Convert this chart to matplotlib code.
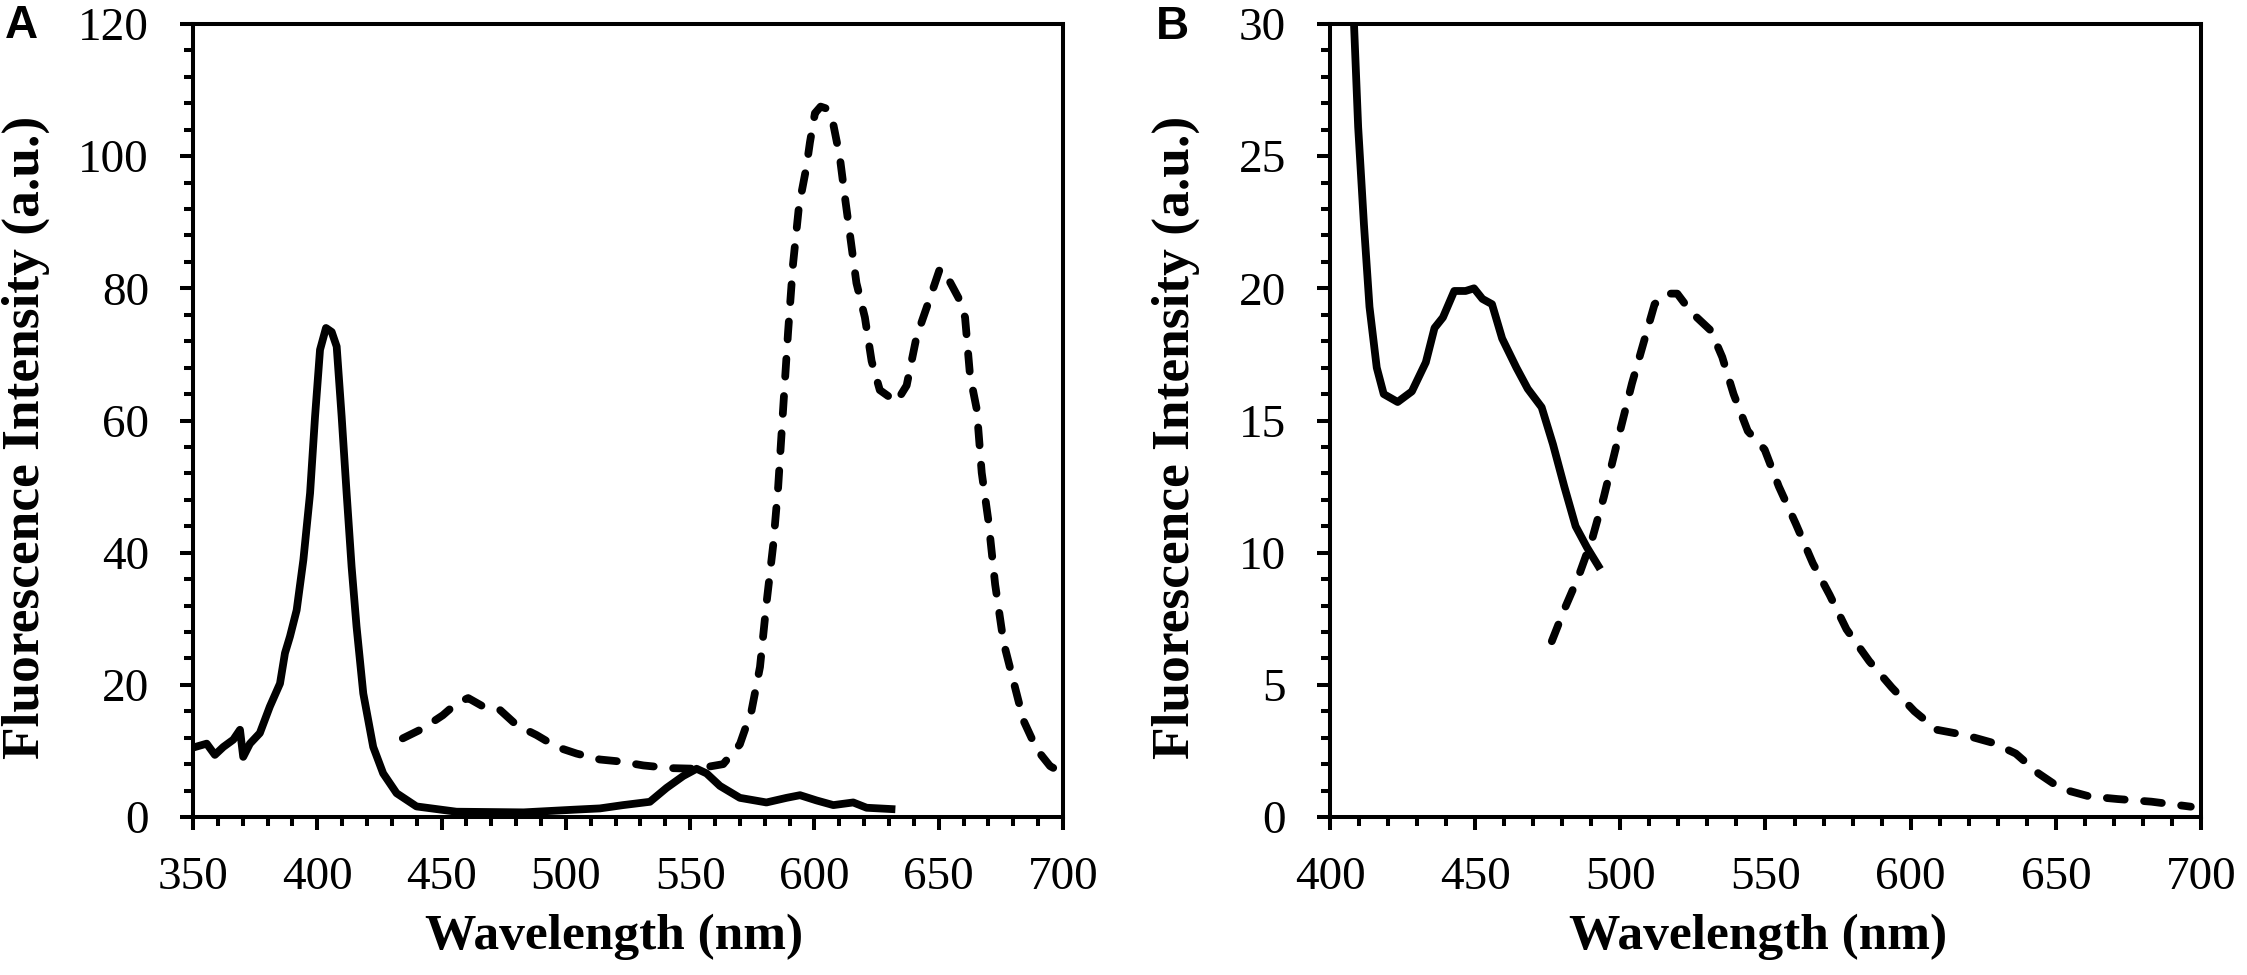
import matplotlib
matplotlib.use('Agg')
import matplotlib.pyplot as plt
from matplotlib.ticker import MultipleLocator

plt.rcParams['font.family'] = 'Liberation Serif'

# Panel A - solid spectrum
a_solid_nm = [350, 355.5, 358.8, 362.2, 366.2, 368.9, 370.2, 372.9, 376.9, 380.9,
              385.0, 387.0, 389.0, 391.7, 394.4, 397.1, 399.1, 401.1, 403.5, 405.8,
              407.8, 409.8, 411.8, 413.8, 415.8, 418.5, 422.5, 426.5, 431.9, 439.9,
              456, 483, 503, 513.7, 523, 533.8, 540.5, 547.2, 552.6, 556.6,
              562, 570, 580.7, 588.8, 594.2, 600.9, 607.6, 615.6, 621, 631]
a_solid_int = [10.5, 11.1, 9.4, 10.6, 11.7, 13.2, 9.1, 11.1, 12.7, 16.7,
               20.2, 24.8, 27.3, 31.3, 38.9, 49.0, 60.6, 70.7, 74.0, 73.4,
               71.2, 60.6, 49.0, 37.9, 28.8, 18.7, 10.6, 6.6, 3.6, 1.6,
               0.8, 0.7, 1.1, 1.3, 1.8, 2.3, 4.4, 6.2, 7.3, 6.6,
               4.7, 2.9, 2.2, 2.9, 3.3, 2.5, 1.8, 2.2, 1.4, 1.2]

# Panel A - dashed spectrum
a_dash_nm = [434.4, 442.5, 450.5, 456.0, 460.7, 466.8, 473.5, 480.2, 488.2, 496.3,
             504.3, 513.7, 521.8, 531.2, 541.9, 552.6, 563.3, 570.0, 574.7, 578.1,
             580.7, 583.4, 585.4, 587.4, 589.4, 591.4, 593.8, 596.8, 598.2, 600.2,
             602.5, 604.9, 607.5, 610.2, 612.2, 614.3, 616.9, 620.3, 623.0, 626.3,
             630.4, 633.0, 637.1, 641.1, 645.8, 650.5, 653.2, 657.9, 660.6, 662.6,
             665.3, 667.3, 670.0, 672.7, 676.1, 680.1, 684.1, 689.5, 694.8, 700.0]
a_dash_int = [11.9, 13.4, 15.4, 17.2, 18.0, 16.7, 16.2, 13.9, 12.4, 10.6,
              9.6, 8.7, 8.4, 7.8, 7.4, 7.3, 8.0, 11.0, 16.1, 22.7,
              32.3, 41.1, 49.9, 61.7, 73.4, 83.7, 92.5, 98.4, 102.1, 106.5,
              107.5, 107.2, 105.0, 99.9, 94.0, 88.1, 80.8, 75.6, 69.0, 64.6,
              63.5, 62.8, 65.3, 72.7, 77.8, 83.0, 81.9, 78.6, 75.6, 66.8,
              61.7, 52.1, 44.8, 35.2, 26.4, 20.5, 14.6, 10.2, 7.7, 6.6]

# Panel B - solid spectrum
b_solid_nm = [407.9, 409.7, 411.7, 413.6, 416.1, 418.5, 423.3, 428.2, 433.0, 436.0,
              438.9, 442.8, 446.7, 449.6, 452.5, 455.8, 459.3, 464.2, 468.1, 472.9,
              476.8, 480.7, 484.6, 488.5, 492.4]
b_solid_int = [31.0, 26.1, 22.4, 19.3, 17.0, 16.0, 15.7, 16.1, 17.2, 18.5,
               18.9, 19.9, 19.9, 20.0, 19.6, 19.4, 18.1, 17.0, 16.2, 15.5,
               14.1, 12.5, 11.0, 10.2, 9.5]

# Panel B - dashed spectrum
b_dash_nm = [476.4, 480.7, 485.6, 490.5, 494.3, 499.2, 504.0, 507.9, 511.8, 515.7,
             519.6, 524.4, 531.2, 535.1, 539.0, 543.9, 549.7, 554.6, 560.4, 566.3,
             572.1, 577.9, 585.7, 593.5, 601.3, 609.0, 618.7, 628.5, 636.2, 644.0,
             651.8, 661.5, 671.2, 682.9, 696.5]
b_dash_int = [6.65, 7.85, 9.1, 10.6, 12.1, 14.3, 16.4, 17.9, 19.4, 19.8,
              19.8, 19.1, 18.4, 17.4, 16.0, 14.6, 13.9, 12.5, 11.1, 9.6,
              8.4, 7.1, 5.9, 4.9, 4.0, 3.3, 3.1, 2.8, 2.4, 1.65,
              1.07, 0.78, 0.68, 0.58, 0.39]

LW = 5.6
DASH = (0, (2.3, 2.5))

fig = plt.figure(figsize=(22.47, 9.75), dpi=100)
ax_a = fig.add_axes([193 / 2247, 158 / 975, 870 / 2247, 793 / 975])
ax_b = fig.add_axes([1330 / 2247, 158 / 975, 871 / 2247, 793 / 975])


def style_axes(ax, xlim, ylim, xmaj, xmin, ymaj, ymin, ylab_x, xlab_x):
    ax.set_xlim(*xlim)
    ax.set_ylim(*ylim)
    ax.xaxis.set_major_locator(MultipleLocator(xmaj))
    ax.xaxis.set_minor_locator(MultipleLocator(xmin))
    ax.yaxis.set_major_locator(MultipleLocator(ymaj))
    ax.yaxis.set_minor_locator(MultipleLocator(ymin))
    for s in ax.spines.values():
        s.set_linewidth(2.9)
    ax.tick_params(which='both', direction='out', top=False, right=False, width=2.9)
    ax.tick_params(which='major', length=9.7, labelsize=34)
    ax.tick_params(which='minor', length=6.8)
    ax.tick_params(axis='x', which='major', pad=19)
    ax.tick_params(axis='y', which='major', pad=22)
    ax.text(ylab_x, 0.479, 'Fluorescence Intensity (a.u.)', rotation=90,
            ha='center', va='center', transform=ax.transAxes,
            fontsize=38.5, fontweight='bold')
    ax.text(xlab_x, -0.122, 'Wavelength (nm)', ha='center', va='top',
            transform=ax.transAxes, fontsize=37, fontweight='bold')


ax_a.plot(a_solid_nm, a_solid_int, color='black', lw=LW, solid_joinstyle='round')
ax_a.plot(a_dash_nm, a_dash_int, color='black', lw=LW, linestyle=DASH,
          dash_capstyle='round')
style_axes(ax_a, (350, 700), (0, 120), 50, 10, 20, 4, -0.192, 0.484)

ax_b.plot(b_solid_nm, b_solid_int, color='black', lw=LW, solid_joinstyle='round')
ax_b.plot(b_dash_nm, b_dash_int, color='black', lw=LW, linestyle=DASH,
          dash_capstyle='round')
style_axes(ax_b, (400, 700), (0, 30), 50, 10, 5, 1, -0.177, 0.492)

fig.text(0.002, 1 - 4 / 975, 'A', family='Liberation Sans', fontweight='bold',
         fontsize=33, ha='left', va='top')
fig.text(1156 / 2247, 1 - 5 / 975, 'B', family='Liberation Sans', fontweight='bold',
         fontsize=33, ha='left', va='top')

fig.savefig('out.png', dpi=100)
